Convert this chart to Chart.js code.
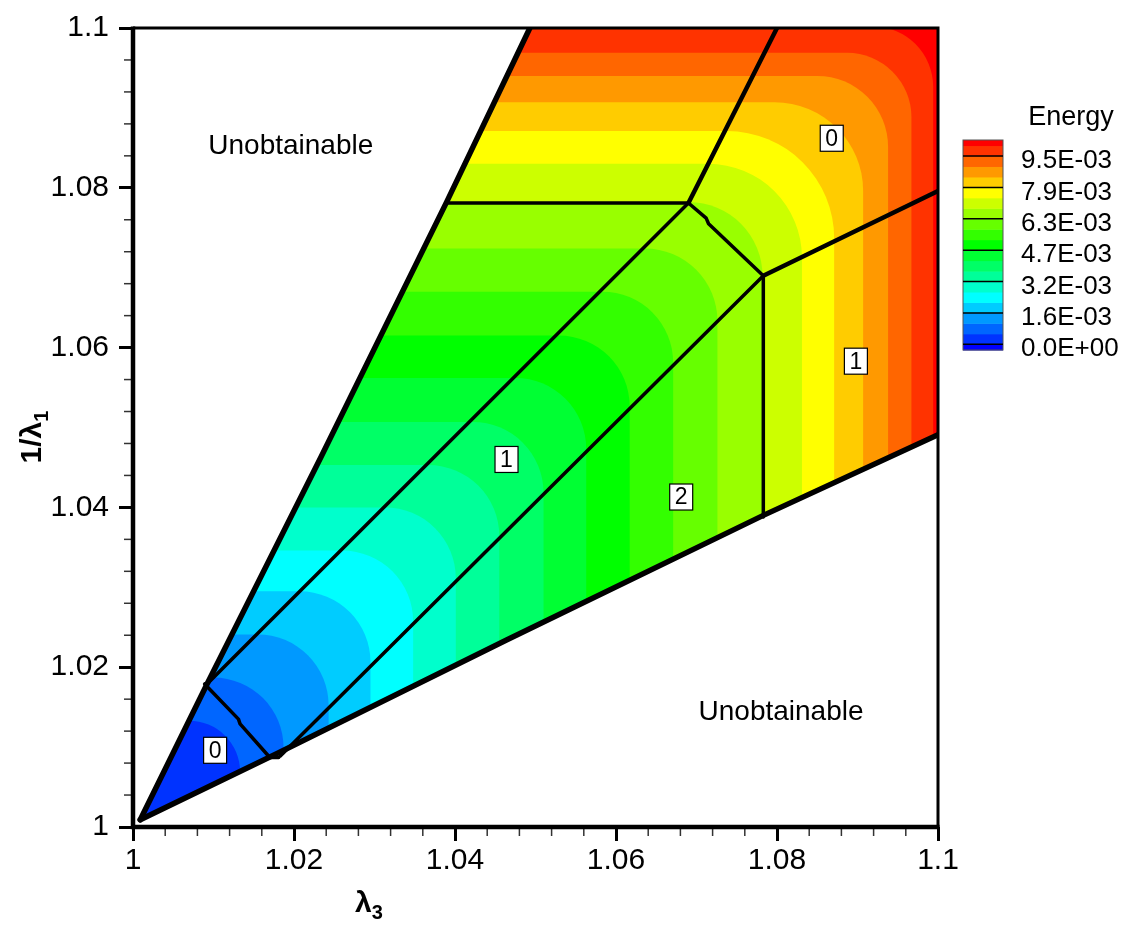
<!DOCTYPE html>
<html><head><meta charset="utf-8">
<script src="https://cdn.jsdelivr.net/npm/chart.js@4"></script>
<style>html,body{margin:0;padding:0;background:#fff}canvas{display:block}</style>
</head><body>
<canvas id="c" width="1131" height="933"></canvas>
<script>
// ---------------- data ----------------
const xTickValues = [1, 1.02, 1.04, 1.06, 1.08, 1.1];
const yTickValues = [1, 1.02, 1.04, 1.06, 1.08, 1.1];

// contour levels 1..19 : where each level boundary sits
// levelY = y of the horizontal part (upper-left zone), levelX = x of the vertical part (lower-right zone)
const levelY = [1.0133, 1.0187, 1.0241, 1.0295, 1.0346, 1.0400, 1.0453, 1.0507, 1.0562, 1.0615,
                1.0670, 1.0724, 1.0782, 1.0830, 1.0871, 1.0907, 1.0940, 1.0969, 1.1002];
const levelX = [1.0133, 1.0187, 1.0243, 1.0295, 1.0348, 1.0401, 1.0455, 1.0510, 1.0563, 1.0617,
                1.0671, 1.0726, 1.0782, 1.0831, 1.0871, 1.0907, 1.0938, 1.0967, 1.0994];
// rounding radius of each contour's corner (data units)
const levelRadius = [0.0070, 0.0088, 0.0088, 0.0088, 0.0088, 0.0088, 0.0088, 0.0088, 0.0088, 0.0088,
                     0.0088, 0.0090, 0.0092, 0.0117, 0.0133, 0.0110, 0.0088, 0.0080, 0.0075];
// colour of band j (between level j and level j+1; j=0 is below level 1)
const bandColors = ['#0033FF','#0066FF','#0099FF','#00CCFF','#00FFFF','#00FFCC','#00FF99','#00FF66',
                    '#00FF33','#00FF00','#33FF00','#66FF00','#99FF00','#CCFF00','#FFFF00','#FFCC00',
                    '#FF9900','#FF6600','#FF3300','#FF0000'];
const legendColors = ['#0000FF'].concat(bandColors);
const legendLabels = ['0.0E+00','1.6E-03','3.2E-03','4.7E-03','6.3E-03','7.9E-03','9.5E-03'];
const legendLabelLevels = [0, 3, 6, 9, 12, 15, 18];

// phase boundaries (x = lambda3, y = 1/lambda1)
const upperWedge = [[1.0009,1.0009],[1.0092,1.0179],[1.0234,1.0464],[1.0390,1.0783],[1.0493,1.1]];
const lowerWedge = [[1.0009,1.0009],[1.0179,1.0092],[1.0464,1.0234],[1.0783,1.0390],[1.1,1.0491]];
const lineTopHoriz = [[1.0390,1.0781],[1.0690,1.0781]];
const lineTopLeft  = [[1.0690,1.0781],[1.0800,1.1]];
const lineJunction = [[1.0690,1.0781],[1.0712,1.0762],[1.0715,1.0755],[1.0783,1.0690]];
const lineTopRight = [[1.0783,1.0690],[1.1,1.0796]];
const lineVertical = [[1.0783,1.0690],[1.0783,1.0388]];
const lineDiagUp   = [[1.0092,1.0179],[1.0690,1.0781]];
const lineDiagLow  = [[1.0183,1.0089],[1.0783,1.0690]];
const lineCorner   = [[1.0089,1.0179],[1.0131,1.0135],[1.0133,1.0129],[1.0170,1.0087],[1.0181,1.0087]];

// phase number labels
const phaseLabels = ['0','1','1','2','0'];
const phaseLabelX = [1.0868, 1.0898, 1.0464, 1.0681, 1.0102];
const phaseLabelY = [1.0862, 1.0583, 1.0460, 1.0413, 1.0096];
const regionTexts = ['Unobtainable','Unobtainable'];
const regionTextX = [1.0196, 1.0805];
const regionTextY = [1.0852, 1.0144];

// ---------------- helpers ----------------
function xAtY(poly, yv){
  for (let i=0;i<poly.length-1;i++){
    const [x1,y1]=poly[i],[x2,y2]=poly[i+1];
    if ((yv>=Math.min(y1,y2) && yv<=Math.max(y1,y2)) || i===poly.length-2){
      return x1 + (yv-y1)*(x2-x1)/(y2-y1);
    }
  }
}
function yAtX(poly, xv){
  for (let i=0;i<poly.length-1;i++){
    const [x1,y1]=poly[i],[x2,y2]=poly[i+1];
    if ((xv>=Math.min(x1,x2) && xv<=Math.max(x1,x2)) || i===poly.length-2){
      return y1 + (xv-x1)*(y2-y1)/(x2-x1);
    }
  }
}
function linesFor(py){
  if (py < lineDiagUp[0][1]) return [upperWedge, lowerWedge];
  if (py < lineTopLeft[0][1]) return [lineDiagUp, lineDiagLow];
  return [lineTopLeft, lineTopRight];
}
const FONT = 'Arial, "Liberation Sans", sans-serif';

const contourPlugin = {
  id: 'contourFill',
  beforeDatasetsDraw(chart){
    const {ctx, chartArea:a, scales:{x, y}} = chart;
    const X = v => x.getPixelForValue(v), Y = v => y.getPixelForValue(v);
    ctx.save();
    ctx.beginPath(); ctx.rect(a.left, a.top, a.right-a.left, a.bottom-a.top); ctx.clip();
    ctx.beginPath();
    upperWedge.forEach((p,i)=> i ? ctx.lineTo(X(p[0]),Y(p[1])) : ctx.moveTo(X(p[0]),Y(p[1])));
    ctx.lineTo(X(x.max)+5, Y(y.max)-5);
    for (let i=lowerWedge.length-1;i>=0;i--) ctx.lineTo(X(lowerWedge[i][0]), Y(lowerWedge[i][1]));
    ctx.closePath(); ctx.clip();
    ctx.fillStyle = bandColors[bandColors.length-1];
    ctx.fillRect(a.left-5, a.top-5, a.right-a.left+10, a.bottom-a.top+10);
    const farL = X(x.min)-20, farB = Y(y.min)+20;
    const pxPerUnit = (X(x.min+0.01)-X(x.min))/0.01;
    for (let k=levelY.length-1;k>=0;k--){
      const py = levelY[k], px = levelX[k];
      const [L, R] = linesFor(py);
      const xa = xAtY(L, py), yb = yAtX(R, px);
      const r = Math.max(0, Math.min(levelRadius[k], px-xa, py-yb));
      ctx.beginPath();
      ctx.moveTo(farL, Y(py));
      ctx.lineTo(X(xa), Y(py));
      if (r > 0) ctx.arcTo(X(px), Y(py), X(px), Y(yb), r*pxPerUnit);
      else ctx.lineTo(X(px), Y(py));
      ctx.lineTo(X(px), Y(yb));
      ctx.lineTo(X(px), farB);
      ctx.lineTo(farL, farB);
      ctx.closePath();
      ctx.fillStyle = bandColors[k];
      ctx.fill();
    }
    ctx.restore();
  },
  afterDatasetsDraw(chart){
    const {ctx, chartArea:a, scales:{x, y}} = chart;
    const X = v => x.getPixelForValue(v), Y = v => y.getPixelForValue(v);
    ctx.save();
    // minor ticks
    ctx.strokeStyle = '#333'; ctx.lineWidth = 1.5;
    for (let i=1;i<25;i++){
      if (i%5===0) continue;
      const v = 1 + i*0.004;
      ctx.beginPath(); ctx.moveTo(X(v), a.bottom); ctx.lineTo(X(v), a.bottom+9); ctx.stroke();
      ctx.beginPath(); ctx.moveTo(a.left, Y(v)); ctx.lineTo(a.left-9, Y(v)); ctx.stroke();
    }
    // frame
    ctx.strokeStyle = '#000';
    ctx.lineWidth = 3;
    ctx.beginPath(); ctx.moveTo(a.left, a.top); ctx.lineTo(a.right, a.top); ctx.lineTo(a.right, a.bottom); ctx.stroke();
    ctx.lineWidth = 4.5;
    ctx.beginPath(); ctx.moveTo(a.left, a.top-1.5); ctx.lineTo(a.left, a.bottom); ctx.lineTo(a.right+1.5, a.bottom); ctx.stroke();
    // phase labels
    ctx.font = '23px ' + FONT;
    ctx.textAlign = 'center'; ctx.textBaseline = 'middle';
    phaseLabels.forEach((t,i)=>{
      const cx = X(phaseLabelX[i]), cy = Y(phaseLabelY[i]);
      ctx.fillStyle = '#fff'; ctx.fillRect(cx-11.5, cy-13, 23, 26);
      ctx.strokeStyle = '#000'; ctx.lineWidth = 1.2; ctx.strokeRect(cx-11.5, cy-13, 23, 26);
      ctx.fillStyle = '#000'; ctx.fillText(t, cx, cy+1);
    });
    // region texts
    ctx.font = '28px ' + FONT;
    regionTexts.forEach((t,i)=> ctx.fillText(t, X(regionTextX[i]), Y(regionTextY[i])));
    // legend
    const barL = 963, barR = 1003, barT = 140, barB = 350, lev0 = 344.3, step = 10.46;
    for (let j=0;j<legendColors.length;j++){
      const yb = j===0 ? barB : lev0 - (j-1)*step;
      const yt = j===legendColors.length-1 ? barT : lev0 - j*step;
      ctx.fillStyle = legendColors[j];
      ctx.fillRect(barL, yt, barR-barL, yb-yt+0.5);
    }
    ctx.strokeStyle = '#555'; ctx.lineWidth = 1;
    ctx.strokeRect(barL, barT, barR-barL, barB-barT);
    ctx.font = '26px ' + FONT;
    ctx.textAlign = 'left';
    legendLabelLevels.forEach((lv,i)=>{
      const ly = lev0 - lv*step;
      ctx.strokeStyle = '#000'; ctx.lineWidth = 1.5;
      ctx.beginPath(); ctx.moveTo(barL, ly); ctx.lineTo(barR, ly); ctx.stroke();
      ctx.fillStyle = '#000';
      ctx.fillText(legendLabels[i], 1021, ly + 5);
    });
    ctx.font = '27px ' + FONT;
    ctx.textAlign = 'center';
    ctx.fillText('Energy', 1071, 118);
    // axis titles
    const bold = s => 'bold ' + s + 'px ' + FONT;
    ctx.textAlign = 'left'; ctx.textBaseline = 'alphabetic';
    ctx.font = bold(30);
    const xm = ctx.measureText('λ').width;
    ctx.fillText('λ', 355, 912);
    ctx.font = bold(20); ctx.fillText('3', 355 + xm, 919);
    ctx.save();
    ctx.translate(41, 437); ctx.rotate(-Math.PI/2);
    ctx.font = bold(30);
    const ym = ctx.measureText('1/λ').width;
    ctx.font = bold(20);
    const ys = ctx.measureText('1').width;
    const start = -(ym+ys)/2;
    ctx.font = bold(30); ctx.fillText('1/λ', start, 0);
    ctx.font = bold(20); ctx.fillText('1', start+ym, 7);
    ctx.restore();
    ctx.restore();
  }
};

const mkLine = (pts, w) => ({
  data: pts.map(p=>({x:p[0], y:p[1]})), showLine: true, borderColor: '#000', borderWidth: w,
  pointRadius: 0, fill: false, tension: 0, borderJoinStyle: 'round', borderCapStyle: 'round'
});

const fmt = v => String(Number(v.toFixed(3)));

new Chart(document.getElementById('c'), {
  type: 'scatter',
  data: { datasets: [
    mkLine(upperWedge, 5.5), mkLine(lowerWedge, 5.5),
    mkLine(lineTopHoriz, 3.5), mkLine(lineTopLeft, 4.5), mkLine(lineJunction, 3.5),
    mkLine(lineTopRight, 4.5), mkLine(lineVertical, 3.5), mkLine(lineDiagUp, 3.5),
    mkLine(lineDiagLow, 3.5), mkLine(lineCorner, 3.5)
  ]},
  options: {
    responsive: false, animation: false, devicePixelRatio: 1,
    layout: { padding: { left: 0, top: 22, right: 193, bottom: 0 } },
    plugins: { legend: { display: false }, tooltip: { enabled: false } },
    scales: {
      x: {
        type: 'linear', min: 1, max: 1.1,
        afterBuildTicks: s => { s.ticks = xTickValues.map(v=>({value:v})); },
        afterFit: s => { s.height = 106; },
        ticks: { callback: v => fmt(v), color: '#000', padding: 2, maxRotation: 0,
                 font: { size: 30, family: FONT } },
        grid: { drawOnChartArea: false, drawTicks: true, tickLength: 14, tickWidth: 3, tickColor: '#000' },
        border: { display: false }
      },
      y: {
        type: 'linear', min: 1, max: 1.1,
        afterBuildTicks: s => { s.ticks = yTickValues.map(v=>({value:v})); },
        afterFit: s => { s.width = 133; },
        ticks: { callback: v => fmt(v), color: '#000', padding: 10,
                 font: { size: 30, family: FONT } },
        grid: { drawOnChartArea: false, drawTicks: true, tickLength: 14, tickWidth: 3, tickColor: '#000' },
        border: { display: false }
      }
    }
  },
  plugins: [contourPlugin]
});
</script>
</body></html>
